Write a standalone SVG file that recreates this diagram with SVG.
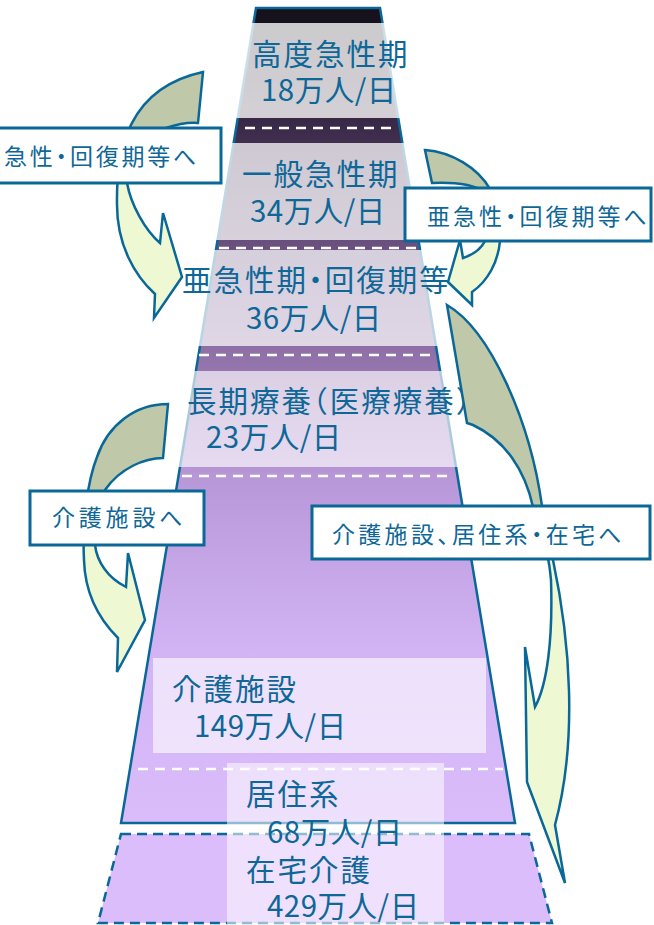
<svg xmlns="http://www.w3.org/2000/svg" width="654" height="925" viewBox="0 0 654 925">
<defs>
<linearGradient id="pyr" gradientUnits="userSpaceOnUse" x1="0" y1="8" x2="0" y2="823">
<stop offset="0" stop-color="#16111c"/>
<stop offset="0.02" stop-color="#16111c"/>
<stop offset="0.15" stop-color="#3c2b4b"/>
<stop offset="0.29" stop-color="#69507e"/>
<stop offset="0.43" stop-color="#9272aa"/>
<stop offset="0.58" stop-color="#b898d8"/>
<stop offset="0.79" stop-color="#d2b3f4"/>
<stop offset="1" stop-color="#dabcfb"/>
</linearGradient>
<linearGradient id="g1" gradientUnits="userSpaceOnUse" x1="0" y1="150" x2="0" y2="160"><stop offset="0" stop-color="#bfc8a9"/><stop offset="1" stop-color="#eef9d4"/></linearGradient>
<linearGradient id="g2" gradientUnits="userSpaceOnUse" x1="0" y1="210" x2="0" y2="220"><stop offset="0" stop-color="#bfc8a9"/><stop offset="1" stop-color="#eef9d4"/></linearGradient>
<linearGradient id="g3" gradientUnits="userSpaceOnUse" x1="0" y1="513" x2="0" y2="523"><stop offset="0" stop-color="#bfc8a9"/><stop offset="1" stop-color="#eef9d4"/></linearGradient>
<linearGradient id="g4" gradientUnits="userSpaceOnUse" x1="0" y1="528" x2="0" y2="538"><stop offset="0" stop-color="#bfc8a9"/><stop offset="1" stop-color="#eef9d4"/></linearGradient>
</defs>
<style>
.t{font-family:"Noto Sans CJK JP","Noto Sans",sans-serif;fill:#0e6797;font-feature-settings:"halt" 1;}
.big{font-size:29.5px;letter-spacing:2px}
.num{font-size:29.5px;letter-spacing:0.5px}
.lab{font-size:23px;letter-spacing:2.8px}
.box{fill:#fff;stroke:#0a6898;stroke-width:3}
.arr{stroke:#0a6898;stroke-width:2.5;stroke-linejoin:miter}
.dash{stroke:#fff;stroke-width:2.5;stroke-dasharray:10 7;fill:none}
.ov{fill:#fff}
</style>

<g id="pyramid">
<polygon points="256,8 380,8 515,823 121,823" fill="url(#pyr)" stroke="#0a6898" stroke-width="2.5"/>
<polygon points="121,834 529,834 552,923 98,923" fill="#dbbdfb" stroke="#0a6898" stroke-width="2.5" stroke-dasharray="10 6"/>
<polygon class="ov" opacity="0.78" points="251.5,23 384.5,23 400.2,118 235.8,118"/>
<polygon class="ov" opacity="0.74" points="231.6,143 404.4,143 420.4,240 215.6,240"/>
<polygon class="ov" opacity="0.72" points="213.9,250 422.1,250 438,346 198,346"/>
<polygon class="ov" opacity="0.66" points="193.9,371 442.1,371 458,467 178,467"/>
<line class="dash" x1="245" y1="128" x2="397" y2="128"/>
<line class="dash" x1="219" y1="248" x2="418" y2="248"/>
<line class="dash" x1="199" y1="355" x2="433" y2="355"/>
<line class="dash" x1="182" y1="476" x2="454" y2="476"/>
<line class="dash" x1="138" y1="769" x2="503" y2="769"/>
<rect class="ov" opacity="0.6" x="153" y="658" width="333" height="95"/>
<rect class="ov" opacity="0.55" x="227" y="763" width="217" height="165"/>
</g>

<g id="n-koudo">
<text class="t big" x="252" y="65">高度急性期</text>
<text class="t num" x="261" y="101">18万人/日</text>
</g>
<g id="n-ippan">
<text class="t big" x="242" y="185">一般急性期</text>
<text class="t num" x="250" y="222">34万人/日</text>
</g>
<g id="n-akyusei">
<text class="t big" x="182" y="291">亜急性期<tspan>・</tspan>回復期等</text>
<text class="t num" x="246" y="329">36万人/日</text>
</g>
<g id="n-choki">
<text class="t big" x="187" y="412">長期療養<tspan>（</tspan>医療療養）</text>
<text class="t num" x="206" y="448">23万人/日</text>
</g>
<g id="n-kaigo">
<text class="t big" x="172" y="700">介護施設</text>
<text class="t num" x="194" y="737">149万人/日</text>
</g>
<g id="n-kyoju">
<text class="t big" x="246" y="805">居住系</text>
<text class="t num" x="267" y="843">68万人/日</text>
</g>
<g id="n-zaitaku">
<text class="t big" x="246" y="881">在宅介護</text>
<text class="t num" x="267" y="917">429万人/日</text>
</g>

<g id="connectors">
<path class="arr" fill="url(#g1)" d="M203,72 L198,123 C186,122 175,125 166,128 C140,145 124,165 127,183 C131,205 145,230 160,243 L163,213 L182,277 L154,318 L155,294 C135,276 117,245 117,205 C116,150 128,88 203,72 Z"/>
<path class="arr" fill="url(#g2)" d="M425,150 C452,152 478,168 490,189 C499,205 502,225 500,241 C498,262 488,281 472,292 L472,305 L448,282 L460,240 L463,258 C472,255 481,249 485,241 C489,222 486,200 477,188 C465,183 445,182 432,183 Z"/>
<path class="arr" fill="url(#g3)" d="M168,404 L163,458 C145,458 120,468 105,490 C97,505 94,525 95,545 C97,562 108,578 126,587 L128,553 L145,620 L117,672 L118,638 C100,620 85,595 84,560 C82,520 88,480 97,457 C108,425 135,404 168,404 Z"/>
<path class="arr" fill="url(#g4)" d="M447,305 C490,330 530,420 542,506 C546,530 550,545 553,560 C570,640 578,740 555,825 L565,883 L527,782 L525,647 L535,707 C547,685 553,640 551,580 C550,570 549,562 548,559 C545,540 540,520 533,507 C525,470 505,440 473,425 L467,423 Z"/>
</g>

<g id="l-left1">
<rect class="box" x="-3" y="128" width="224" height="55"/>
<text class="t lab" x="4" y="165">急性<tspan>・</tspan>回復期等へ</text>
</g>
<g id="l-right1">
<rect class="box" x="405" y="188" width="246" height="53"/>
<text class="t lab" x="427" y="225" style="letter-spacing:3px">亜急性<tspan>・</tspan>回復期等へ</text>
</g>
<g id="l-left2">
<rect class="box" x="30" y="491" width="174" height="54"/>
<text class="t lab" x="52" y="526" style="letter-spacing:3.8px">介護施設へ</text>
</g>
<g id="l-right2">
<rect class="box" x="312" y="506" width="338" height="53"/>
<text class="t lab" x="332" y="543" style="letter-spacing:3.3px">介護施設<tspan>、</tspan>居住系<tspan>・</tspan>在宅へ</text>
</g>
</svg>
